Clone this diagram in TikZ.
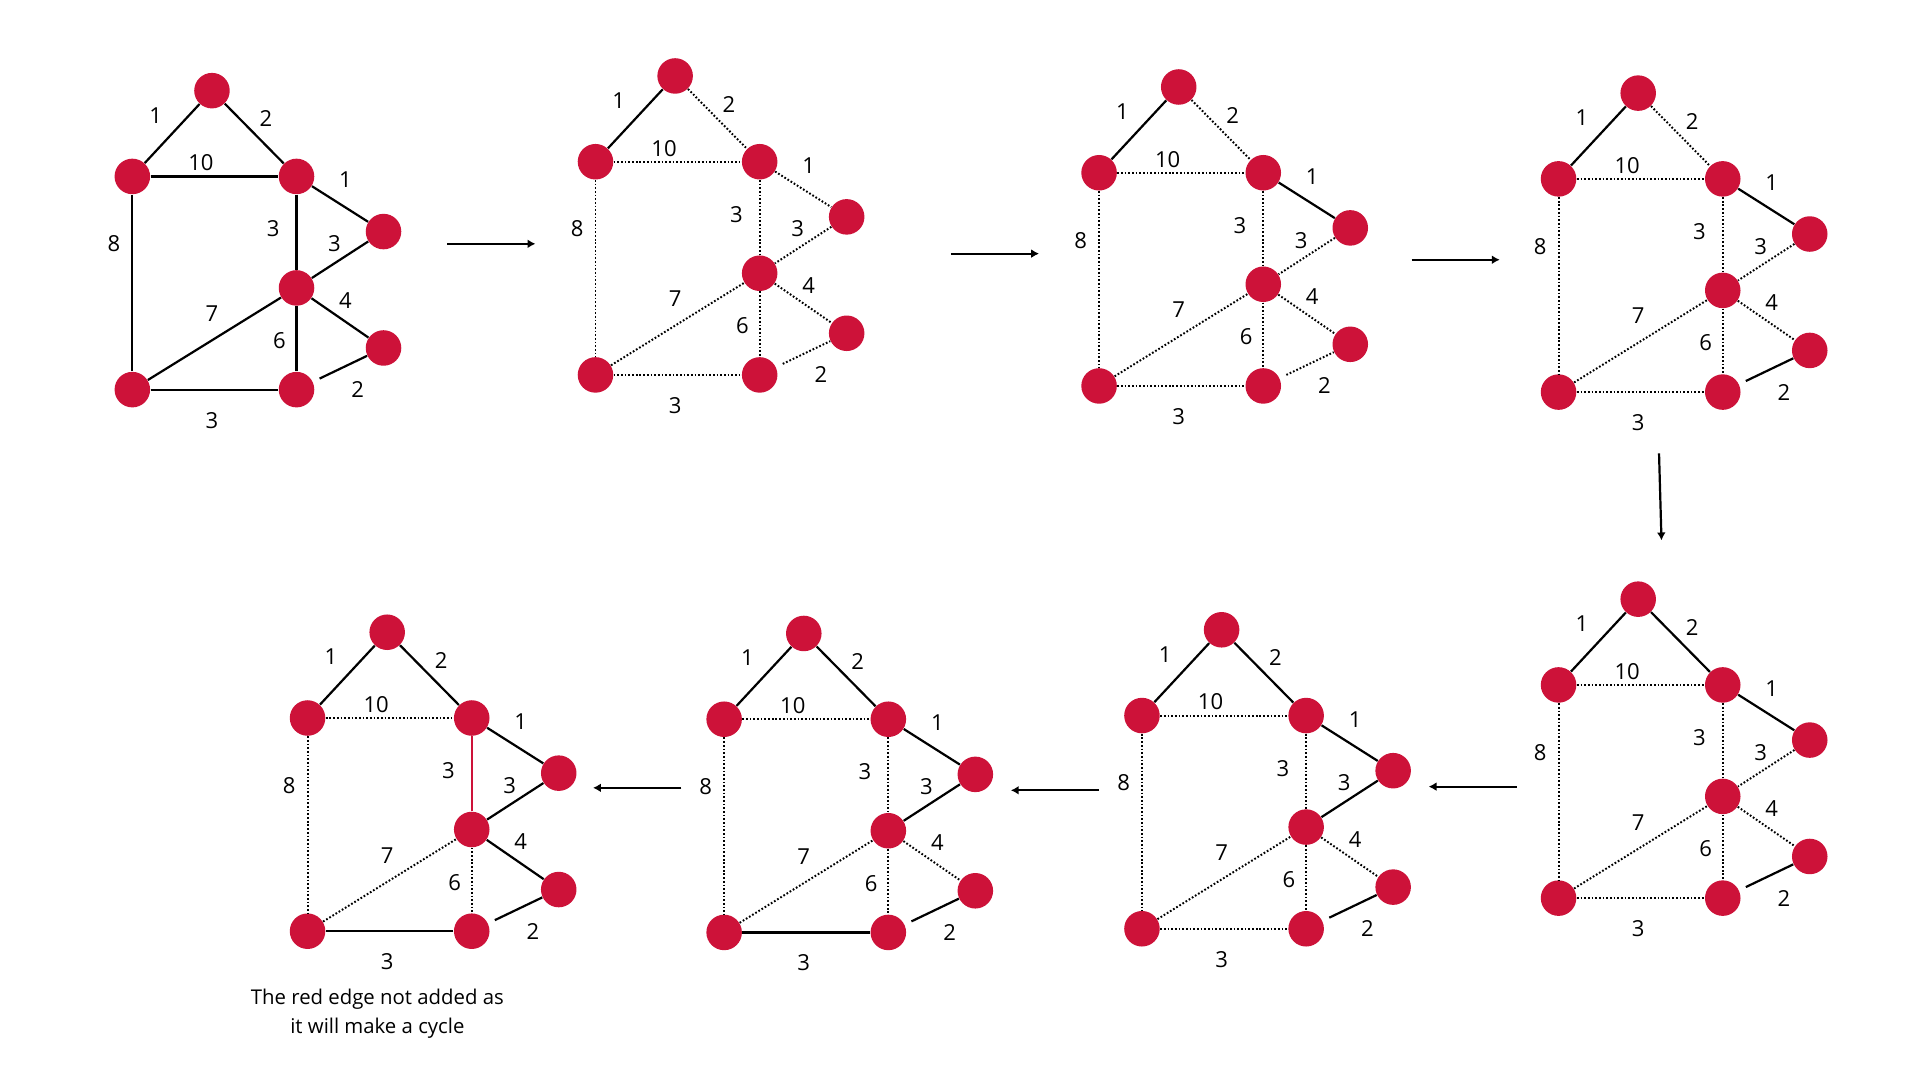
\documentclass[tikz,border=0pt]{standalone}
\usepackage{fontspec}
\setmainfont{Open Sans}
\usetikzlibrary{arrows.meta}
\definecolor{kred}{RGB}{205,18,57}
\tikzset{
  vert/.style={circle, fill=kred, draw=none, inner sep=0pt, minimum size=14.5pt},
  wlab/.style={font=\fontsize{9}{12}\selectfont, inner sep=0pt, text=black},
  caplab/.style={font=\fontsize{8.3}{11.8}\selectfont, inner sep=0pt, text=black, align=center},
  solE/.style={draw=black, line width=0.9pt},
  dotE/.style={draw=black, line width=0.8pt, dash pattern=on 0.7pt off 0.8pt},
  redE/.style={draw=kred, line width=0.8pt},
  eTL/.style={dotE}, eTM/.style={dotE}, eLM/.style={dotE}, eMR/.style={dotE},
  eMM/.style={dotE}, eRM/.style={dotE}, eLB/.style={dotE}, eBM/.style={dotE},
  eMRb/.style={dotE}, eMMb/.style={dotE}, eBB/.style={dotE}, eMcR/.style={dotE},
  flow/.style={line width=0.9pt, -{Latex[length=3.2pt,width=3.6pt]}}
}
\newcommand\kgraph[3]{%
  \begin{scope}[shift={#2}, #3]
    \node[vert] (#1L) at (0,0) {};
    \node[vert] (#1T) at (65,-70) {};
    \node[vert] (#1Ma) at (134,0) {};
    \node[vert] (#1Ra) at (205,45) {};
    \node[vert] (#1Mb) at (134,91) {};
    \node[vert] (#1Rb) at (205,140) {};
    \node[vert] (#1B) at (0,174) {};
    \node[vert] (#1Mc) at (134,174) {};
    \draw[eTL] (#1T) -- (#1L);
    \draw[eTM] (#1T) -- (#1Ma);
    \draw[eLM] (#1L) -- (#1Ma);
    \draw[eMR] (#1Ma) -- (#1Ra);
    \draw[eMM] (#1Ma) -- (#1Mb);
    \draw[eRM] (#1Ra) -- (#1Mb);
    \draw[eLB] (#1L) -- (#1B);
    \draw[eBM] (#1B) -- (#1Mb);
    \draw[eMRb] (#1Mb) -- (#1Rb);
    \draw[eMMb] (#1Mb) -- (#1Mc);
    \draw[eBB] (#1B) -- (#1Mc);
    \draw[eMcR, shorten <=3pt] (#1Mc) -- (#1Rb);
    \node[wlab] (#1wa) at (19,-50) {1};
    \node[wlab] (#1wb) at (109,-47) {2};
    \node[wlab] (#1wc) at (56,-11) {10};
    \node[wlab] (#1wd) at (174,3) {1};
    \node[wlab] (#1we) at (115,43) {3};
    \node[wlab] (#1wf) at (165,55) {3};
    \node[wlab] (#1wg) at (-15,55) {8};
    \node[wlab] (#1wh) at (65,112) {7};
    \node[wlab] (#1wi) at (174,101) {4};
    \node[wlab] (#1wj) at (120,134) {6};
    \node[wlab] (#1wk) at (65,199) {3};
    \node[wlab] (#1wl) at (184,174) {2};
  \end{scope}}
\begin{document}
\begin{tikzpicture}[x=0.5pt, y=-0.5pt]
  \useasboundingbox[fill=white] (0,0) rectangle (1567,881.4);
  \kgraph{ga}{(108,144)}{dotE/.style={solE}}
  \kgraph{gb}{(486,132)}{eTL/.style={solE}}
  \kgraph{gc}{(897,141)}{eTL/.style={solE}, eMR/.style={solE}}
  \kgraph{gd}{(1272,146)}{eTL/.style={solE}, eMR/.style={solE}, eMcR/.style={solE}}
  \kgraph{ge}{(1272,559)}{eTL/.style={solE}, eTM/.style={solE}, eMR/.style={solE}, eMcR/.style={solE}}
  \kgraph{gf}{(932,584)}{eTL/.style={solE}, eTM/.style={solE}, eMR/.style={solE}, eMcR/.style={solE}, eRM/.style={solE}}
  \kgraph{gg}{(591,587)}{eTL/.style={solE}, eTM/.style={solE}, eMR/.style={solE}, eMcR/.style={solE}, eRM/.style={solE}, eBB/.style={solE}}
  \kgraph{gh}{(251,586)}{eTL/.style={solE}, eTM/.style={solE}, eMR/.style={solE}, eMcR/.style={solE}, eRM/.style={solE}, eBB/.style={solE}, eMRb/.style={solE}, eMM/.style={redE}}
  \coordinate (a1s) at (365,199); \coordinate (a1e) at (437,199);
  \coordinate (a2s) at (776,207); \coordinate (a2e) at (848,207);
  \coordinate (a3s) at (1152,212); \coordinate (a3e) at (1224,212);
  \coordinate (a4s) at (1354,370); \coordinate (a4e) at (1356,441);
  \coordinate (a5s) at (1238,642); \coordinate (a5e) at (1166,642);
  \coordinate (a6s) at (897,645); \coordinate (a6e) at (825,645);
  \coordinate (a7s) at (556,643); \coordinate (a7e) at (484,643);
  \foreach \i in {1,...,7} {\draw[flow] (a\i s) -- (a\i e);}
  \node[caplab] (cap) at (308,827) {The red edge not added as\\it will make a cycle};
\end{tikzpicture}
\end{document}
